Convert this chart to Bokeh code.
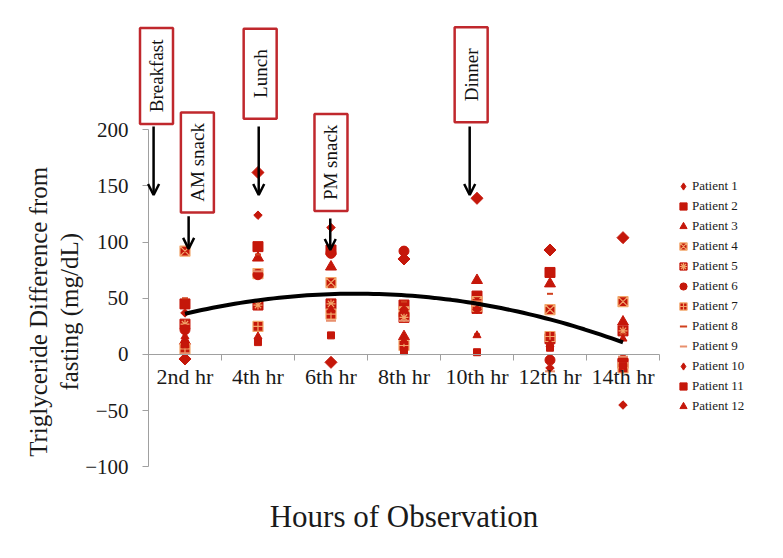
import numpy as np
from bokeh.plotting import figure
from bokeh.models import Range1d, FixedTicker, Arrow, OpenHead, Legend, LegendItem
from bokeh.core.properties import value
from bokeh.embed import file_html
from bokeh.resources import INLINE

# ---------------- data ----------------
hours = ["2nd hr", "4th hr", "6th hr", "8th hr", "10th hr", "12th hr", "14th hr"]
hour_pos = [1, 2, 3, 4, 5, 6, 7]

patient_1 = [-4, 162, -7, 85, 139, 93, 104]
patient_2 = [45, 96, 93, 44, 52, 73, -8]
patient_3 = [12, 86, 78, 16, 66, 63, 29]
patient_4 = [92, 72, 64, 38, 47, 40, 47]
patient_5 = [27, 44, 45, 33, 41, 14, 21]
patient_6 = [22, 71, 90, 92, 45, -5, -5]
patient_7 = [5, 25, 36, 8, 43, 16, -12]
patient_8 = [50, 89, 60, 47, 18, 54, 18]
patient_9 = [1, 74, 30, 30, 44, -15, -2]
patient_10 = [37, 124, 113, 40, 40, -12, -45]
patient_11 = [9, 11, 17, 3, 2, 6, -10]
patient_12 = [16, 16, 40, 12, 17, 9, 14]

patient_labels = ["Patient %d" % i for i in range(1, 13)]
patients = [patient_1, patient_2, patient_3, patient_4, patient_5, patient_6,
            patient_7, patient_8, patient_9, patient_10, patient_11, patient_12]

# polynomial trend line, values at each hour
trend_read = [37, 47, 53, 54, 46, 30, 11]

y_ticks = [-100, -50, 0, 50, 100, 150, 200]

x_title = "Hours of Observation"
y_title = "Triglyceride Difference from\nfasting (mg/dL)"

# meal annotations
meals = ["Breakfast", "AM snack", "Lunch", "PM snack", "Dinner"]
meal_box_x = [0.61, 1.17, 2.03, 3.0, 4.92]
meal_box_y = [248, 171, 250, 171, 249]
meal_box_h = [96, 100, 90, 97, 95]
meal_arrow_x = [0.57, 1.05, 2.01, 2.99, 4.90]
meal_arrow_top = [203, 123, 203, 121, 203]
meal_arrow_tip = [142, 94, 142, 93, 142]

# ---------------- style ----------------
RED = "#C5170A"
ORANGE = "#F2A66A"
SALMON = "#E8906E"
FONT = "Liberation Serif"
GREY = "#A0A0A0"
INK = "#1a1a1a"

p = figure(frame_width=775, frame_height=550,
           x_range=Range1d(-1.527, 9.089), y_range=Range1d(-174.5, 315.1),
           output_backend="svg", toolbar_location=None, min_border=0,
           outline_line_color=None, background_fill_color="white",
           border_fill_color="white")
p.xgrid.visible = False
p.ygrid.visible = False

# y axis (drawn at the left edge of the category area)
ya = p.yaxis[0]
ya.fixed_location = 0.5
ya.bounds = (-100, 200)
ya.ticker = FixedTicker(ticks=y_ticks)
ya.major_tick_out = 6
ya.major_tick_in = 0
ya.minor_tick_out = 0
ya.minor_tick_in = 0
ya.axis_line_color = GREY
ya.major_tick_line_color = GREY
ya.major_label_text_font = FONT
ya.major_label_text_font_size = "21px"
ya.major_label_text_color = INK
ya.major_label_standoff = 14

# x axis (crossing at zero)
xa = p.xaxis[0]
xa.fixed_location = 0
xa.bounds = (0.5, 7.5)
xa.ticker = FixedTicker(ticks=hour_pos,
                        minor_ticks=[h - 0.5 for h in hour_pos] + [hour_pos[-1] + 0.5])
xa.major_label_overrides = {pos: lab for pos, lab in zip(hour_pos, hours)}
xa.major_tick_out = 0
xa.major_tick_in = 0
xa.minor_tick_out = 6
xa.minor_tick_in = 0
xa.axis_line_color = GREY
xa.minor_tick_line_color = GREY
xa.major_label_text_font = FONT
xa.major_label_text_font_size = "22px"
xa.major_label_text_color = INK
xa.major_label_standoff = 4
xa.axis_label = x_title
xa.axis_label_text_font = FONT
xa.axis_label_text_font_size = "31px"
xa.axis_label_text_font_style = "normal"
xa.axis_label_text_color = INK
xa.axis_label_standoff = 106

# y title
p.text(x=[-0.80], y=[38], text=[y_title], angle=np.pi / 2,
       text_align="center", text_baseline="middle",
       text_font=value(FONT), text_font_size="25px", text_color=INK,
       text_line_height=1.15)

# markers
marker_specs = [
    dict(marker="square", size=8.5, angle=np.pi / 4, fill_color=RED, line_color=RED),
    dict(marker="square", size=10, fill_color=RED, line_color=RED),
    dict(marker="triangle", size=11, fill_color=RED, line_color=RED),
    dict(marker="square_x", size=10, fill_color=RED, line_color=ORANGE, line_width=1.2),
    dict(marker="square", size=10, fill_color=RED, line_color=RED),
    dict(marker="circle", size=10, fill_color=RED, line_color=RED),
    dict(marker="square_cross", size=10, fill_color=RED, line_color=ORANGE, line_width=1.2),
    dict(marker="dash", size=6, line_color="#D0401E", line_width=2),
    dict(marker="dash", size=10, line_color=SALMON, line_width=2),
    dict(marker="square", size=6, angle=np.pi / 4, fill_color=RED, line_color=RED),
    dict(marker="square", size=7, fill_color=RED, line_color=RED),
    dict(marker="triangle", size=8, fill_color=RED, line_color=RED),
]

items = []
for i, (vals, spec, lab) in enumerate(zip(patients, marker_specs, patient_labels)):
    r = p.scatter(x=hour_pos, y=vals, **spec)
    rends = [r]
    if i == 4:
        r2 = p.scatter(x=hour_pos, y=vals, marker="asterisk", size=9,
                       line_color=ORANGE, line_width=1.2)
        rends.append(r2)
    if spec.get("angle") is not None:
        # the legend ignores marker angles: show a diamond key instead
        key = p.scatter(x=hour_pos, y=vals, marker="diamond", size=10,
                        fill_color=RED, line_color=RED, visible=False)
        rends = [key]
    items.append(LegendItem(label=lab, renderers=rends))

# trend line (2nd-order polynomial through the read trend values)
coef = np.polyfit(hour_pos, trend_read, 2)
tx = np.linspace(hour_pos[0], hour_pos[-1], 80)
p.line(tx, np.polyval(coef, tx), line_color="black", line_width=4)

# meal boxes and arrows
p.rect(x=meal_box_x, y=meal_box_y, width=33, height=meal_box_h,
       width_units="screen", height_units="screen",
       fill_color="white", line_color="#C0282D", line_width=2.5)
p.text(x=meal_box_x, y=meal_box_y, text=meals, angle=np.pi / 2,
       text_align="center", text_baseline="middle",
       text_font=value(FONT), text_font_size="19px", text_color="#111111")
for ax, ay0, ay1 in zip(meal_arrow_x, meal_arrow_top, meal_arrow_tip):
    p.add_layout(Arrow(x_start=ax, y_start=ay0, x_end=ax, y_end=ay1,
                       line_color="black", line_width=2.5,
                       end=OpenHead(size=11, line_width=2.5, line_color="black")))

legend = Legend(items=items, location=(674, 135), padding=0, margin=0,
                border_line_color=None, background_fill_alpha=0,
                glyph_width=18, glyph_height=18, label_height=18, spacing=2,
                label_standoff=0, label_text_font=FONT,
                label_text_font_size="13px", label_text_color=INK)
p.add_layout(legend)

open("out.html", "w").write(file_html(p, INLINE))
